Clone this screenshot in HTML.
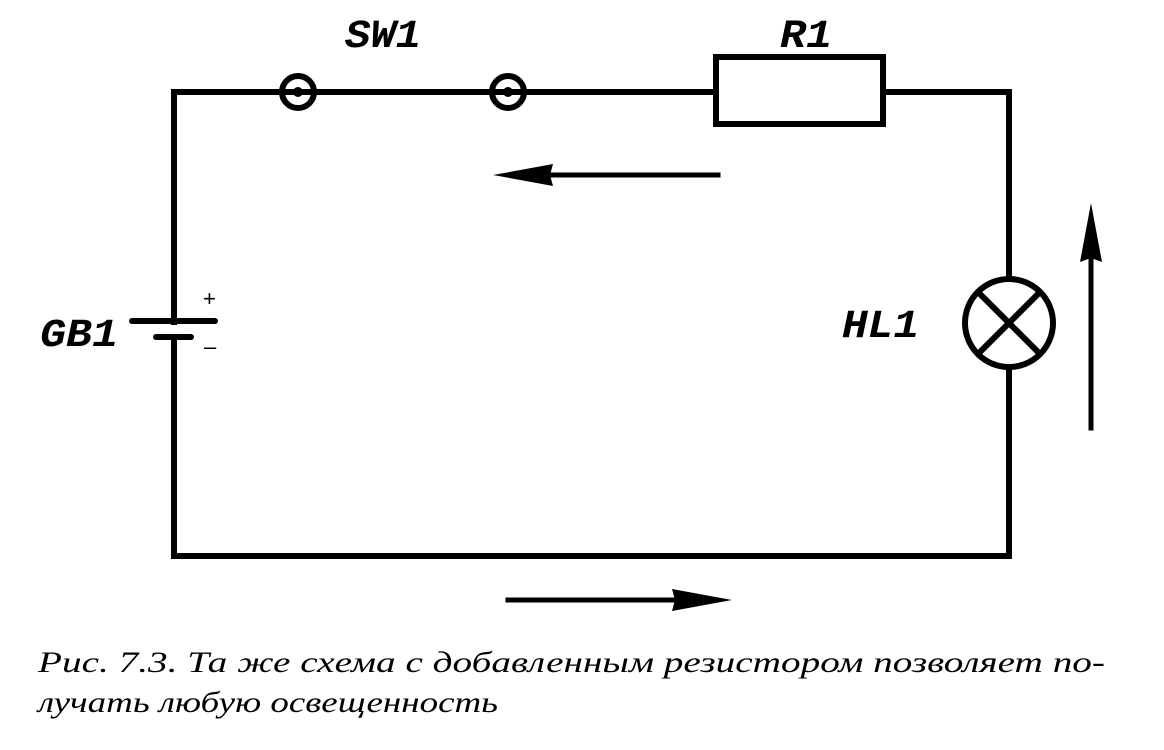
<!DOCTYPE html>
<html><head><meta charset="utf-8"><style>
body{margin:0;background:#fff;width:1164px;height:745px;overflow:hidden}
</style></head><body>
<svg width="1164" height="745" xmlns="http://www.w3.org/2000/svg">
<g stroke="#000" stroke-width="6" fill="none" stroke-linecap="square">
<polyline points="174,322 174,92 714,92"/>
<polyline points="884,92 1009,92 1009,278"/>
<polyline points="1009,368 1009,556 174,556 174,337"/>
<rect x="716" y="57" width="167" height="67"/>
<circle cx="298" cy="92" r="16"/>
<circle cx="508" cy="92" r="16"/>
<circle cx="1009" cy="323" r="44"/>
<line x1="979" y1="293" x2="1039" y2="353"/>
<line x1="1039" y1="293" x2="979" y2="353"/>
<line x1="132" y1="321" x2="215" y2="321" stroke-linecap="round"/>
<line x1="156" y1="337" x2="191" y2="337" stroke-linecap="round"/>
<line x1="520" y1="175" x2="718" y2="175" stroke-width="5"/>
<line x1="508" y1="600" x2="710" y2="600" stroke-width="5"/>
<line x1="1091" y1="225" x2="1091" y2="428" stroke-width="5"/>
</g>
<circle cx="298" cy="92" r="5"/><circle cx="508" cy="92" r="5"/>
<polygon points="493,175 553,164 550,175 553,186"/>
<polygon points="732,600 672,589 675,600 672,611"/>
<polygon points="1091,203 1080,262 1091,258 1102,262"/>
<g font-family="Liberation Mono, monospace" font-weight="bold" font-style="italic" font-size="40" fill="#000">
<text x="345" y="47" textLength="76" lengthAdjust="spacingAndGlyphs">SW1</text>
<text x="780" y="47" textLength="52" lengthAdjust="spacingAndGlyphs">R1</text>
<text x="40" y="346" textLength="78" lengthAdjust="spacingAndGlyphs">GB1</text>
<text x="842" y="337" textLength="77" lengthAdjust="spacingAndGlyphs">HL1</text>
</g>
<text x="203" y="306" font-family="Liberation Sans, sans-serif" font-size="22">+</text>
<text x="204" y="354" font-family="Liberation Sans, sans-serif" font-size="22">–</text>
<g font-family="Liberation Serif, serif" font-style="italic" font-size="30" fill="#000">
<text x="38" y="672" textLength="1067" lengthAdjust="spacingAndGlyphs">Рис. 7.3. Та же схема с добавленным резистором позволяет по-</text>
<text x="38" y="712" textLength="460" lengthAdjust="spacingAndGlyphs">лучать любую освещенность</text>
</g>
</svg>
</body></html>
